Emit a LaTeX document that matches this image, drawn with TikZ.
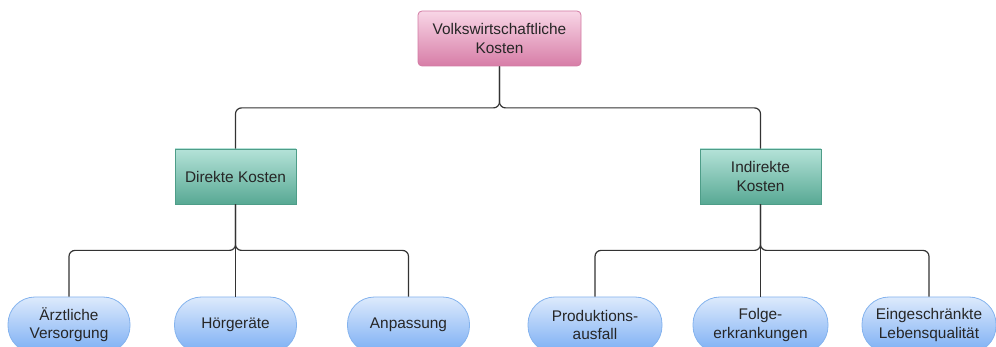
\documentclass[tikz,border=0pt]{standalone}
\usepackage{fontspec}
\setmainfont{Liberation Sans}
\usetikzlibrary{positioning}
\definecolor{pinktop}{HTML}{F8D6E6}
\definecolor{pinkbot}{HTML}{D77DA7}
\definecolor{pinkline}{HTML}{D27BA3}
\definecolor{tealtop}{HTML}{B4E2D8}
\definecolor{tealbot}{HTML}{58A994}
\definecolor{tealline}{HTML}{4E9D88}
\definecolor{bluetop}{HTML}{DDEAFC}
\definecolor{bluebot}{HTML}{7BAEF4}
\definecolor{blueline}{HTML}{84B3EE}
\definecolor{linkgray}{HTML}{333333}
\tikzset{
  rootbox/.style={draw=pinkline, top color=pinktop, bottom color=pinkbot, rounded corners=4pt,
    minimum width=163pt, minimum height=55pt, align=center, line width=0.8pt},
  costbox/.style={draw=tealline, top color=tealtop, bottom color=tealbot,
    minimum width=121pt, minimum height=55pt, align=center, line width=0.8pt},
  leaf/.style={draw=blueline, top color=bluetop, bottom color=bluebot, rounded corners=27pt,
    minimum width=#1, minimum height=56pt, align=center, line width=0.8pt},
  link/.style={draw=linkgray, line width=1.2pt, rounded corners=6pt}
}

\begin{document}
\begin{tikzpicture}[x=1pt,y=-1pt,on grid,font=\fontsize{15.4}{18.3}\selectfont,text=black!85]
   \clip (0,0) rectangle (996,347);
   \node [rootbox] (vk) at (499.5,38.5) {Volkswirtschaftliche\\Kosten};
   \node [costbox] (dk) [below left=138pt and 264pt of vk] {Direkte Kosten};
   \node [costbox] (ik) [below right=138pt and 261pt of vk] {Indirekte\\Kosten};
   % direkte kosten
   \node [leaf=122pt] (hoer) [below=148.5pt of dk] {Hörgeräte};
   \node [leaf=122pt] (arzt) [left=166.5pt of hoer] {Ärztliche\\Versorgung};
   \node [leaf=122pt] (anp) [right=173pt of hoer] {Anpassung};
   % indirekte kosten
   \node [leaf=135pt] (folge) [below=148.5pt of ik] {Folge-\\erkrankungen};
   \node [leaf=134pt] (prod) [left=165.5pt of folge] {Produktions-\\ausfall};
   \node [leaf=134pt] (lq) [right=168.5pt of folge] {Eingeschränkte\\Lebensqualität};
   \draw [link] (vk.south) -- ++(0,41.5) -| (dk.north);
   \draw [link] (vk.south) -- ++(0,41.5) -| (ik.north);
   \draw [link] (dk.south) -- ++(0,46) -| (arzt.north);
   \draw [link] (dk.south) -- ++(0,46) -| (anp.north);
   \draw [link] (dk.south) -- (hoer.north);
   \draw [link] (ik.south) -- ++(0,46) -| (prod.north);
   \draw [link] (ik.south) -- ++(0,46) -| (lq.north);
   \draw [link] (ik.south) -- (folge.north);
\end{tikzpicture}
\end{document}
